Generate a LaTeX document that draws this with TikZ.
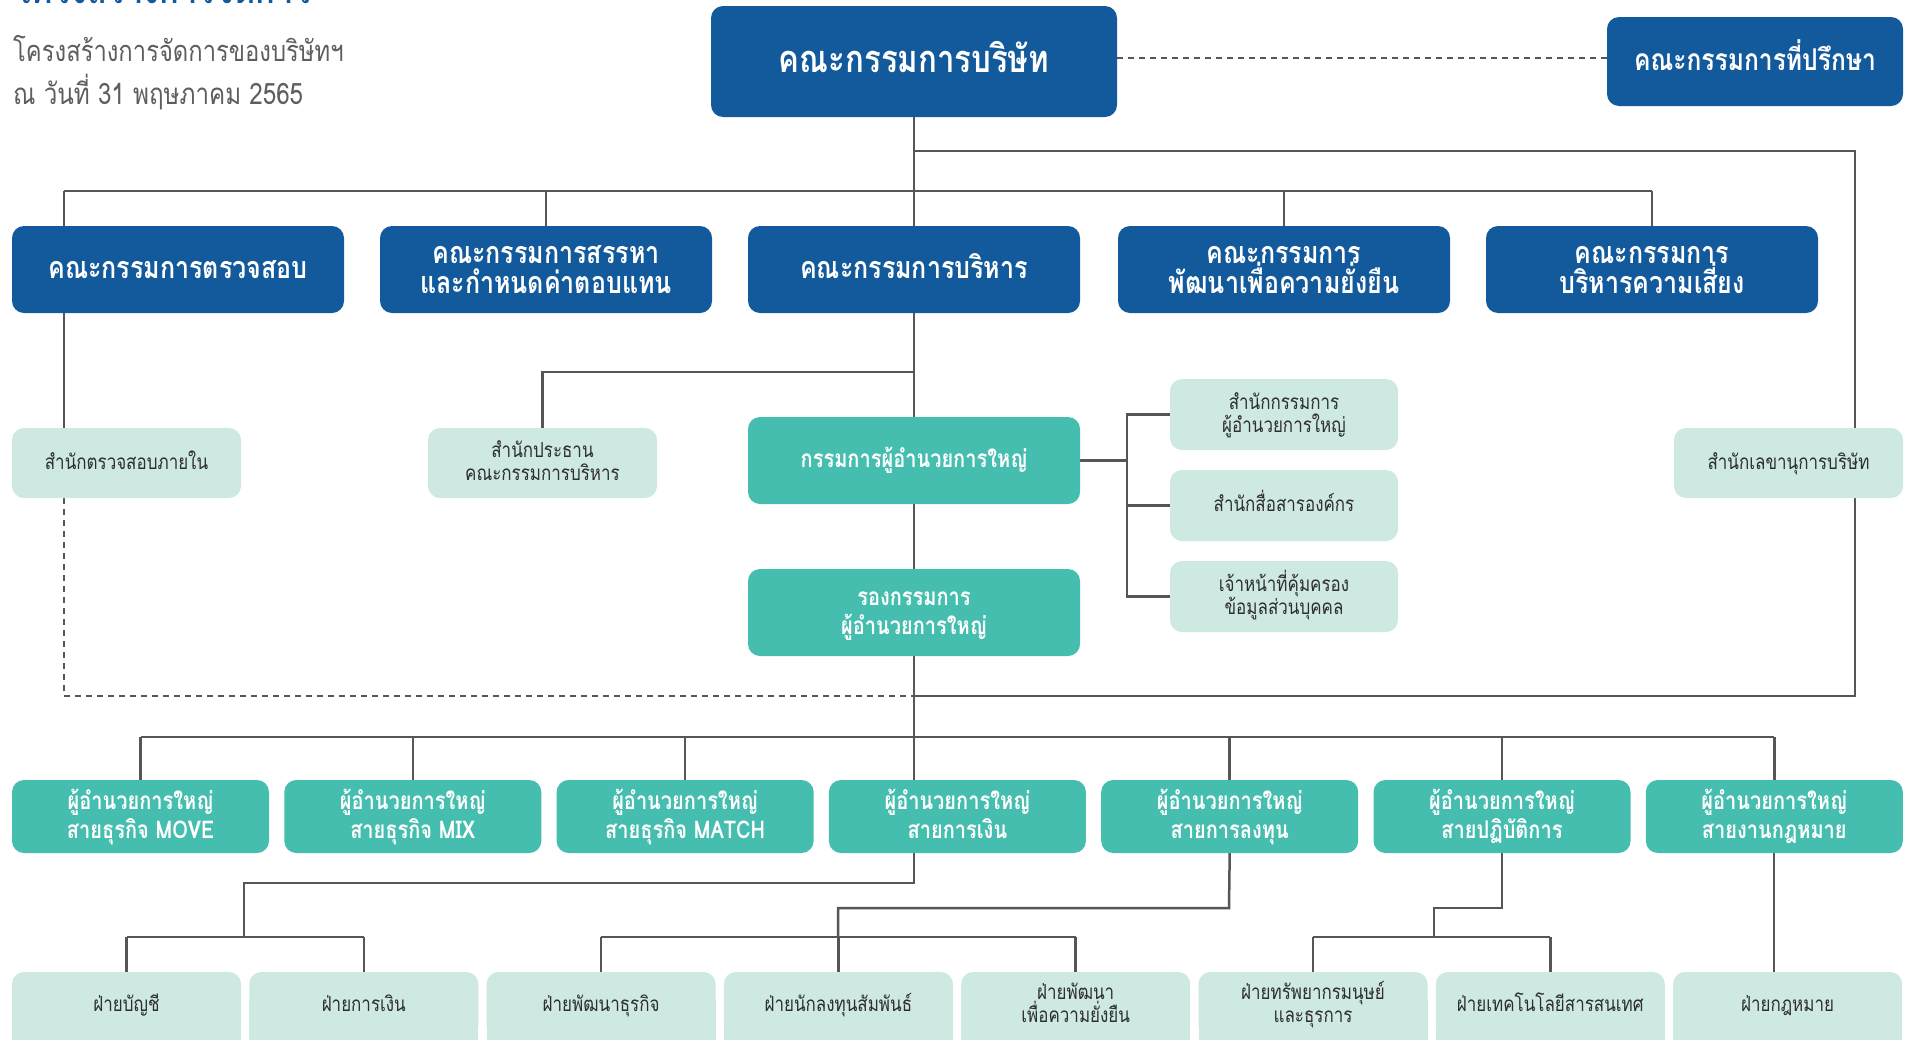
\documentclass[tikz,border=0pt]{standalone}
\usepackage{fontspec}
\setmainfont[Script=Thai]{Loma}
\newfontfamily\cf[Script=Thai,FakeStretch=0.82]{Loma}
\usetikzlibrary{backgrounds}
\pgfdeclarelayer{bottom}
\pgfsetlayers{bottom,background,main}
\definecolor{cblue}{HTML}{135A9C}
\definecolor{cteal}{HTML}{45BEAF}
\definecolor{clight}{HTML}{CEE8E2}
\definecolor{cline}{HTML}{565656}
\definecolor{ctext}{HTML}{2E2E2E}
\definecolor{csub}{HTML}{5E5E5E}
\newcommand\bs{\rule[-0.6em]{0pt}{1.8em}}
\newcommand\up[2]{\raisebox{#1}{#2}}
\tikzset{
  box/.style={rounded corners=12pt, inner sep=0pt, align=center, execute at begin node={\lineskiplimit=-60pt\lineskip=0pt}},
  bluebox/.style={box, fill=cblue, text=white, font=\cf\bfseries\fontsize{30.5}{30}\selectfont},
  tealbox/.style={box, fill=cteal, text=white, font=\cf\bfseries\fontsize{24.4}{29}\selectfont},
  lightbox/.style={box, fill=clight, text=ctext, font=\cf\fontsize{20.7}{23}\selectfont},
  conn/.style={draw=cline, line width=2.5pt},
  dconn/.style={conn, dash pattern=on 6pt off 5pt},
}
\begin{document}
\begin{tikzpicture}[x=1pt,y=-1pt]
\useasboundingbox (0,0) rectangle (1905,1039);
\begin{pgfonlayer}{bottom}
\fill[white] (0,0) rectangle (1905,1039);
\end{pgfonlayer}
\clip (0,0) rectangle (1905,1039);
% title (clipped at top)
\node[anchor=base west, inner sep=0pt, text=cblue, font=\cf\bfseries\fontsize{40}{44}\selectfont] (title) at (14,3) {โครงสร้างการจัดการ};
\node[anchor=base west, inner sep=0pt, text=csub, font=\cf\fontsize{29}{32}\selectfont] (sub1) at (13,61) {โครงสร้างการจัดการของบริษัทฯ};
\node[anchor=base west, inner sep=0pt, text=csub, font=\cf\fontsize{29.5}{32}\selectfont] (sub2) at (13,104) {ณ วันที่ 31 พฤษภาคม 2565};
% top
\node[bluebox, minimum width=406pt, minimum height=111pt, font=\cf\bfseries\fontsize{38}{40}\selectfont] (board) at (914,61.5) {\up{8pt}{\bs คณะกรรมการบริษัท}};
\node[bluebox, minimum width=296pt, minimum height=89pt, font=\cf\bfseries\fontsize{30}{34}\selectfont] (adv) at (1755,61.5) {\up{8pt}{\bs คณะกรรมการที่ปรึกษา}};
% row 2
\foreach \n/\x/\t in {B1/178/{\up{6pt}{\bs คณะกรรมการตรวจสอบ}}, B2/546/{\bs คณะกรรมการสรรหา\\\bs และกำหนดค่าตอบแทน}, B3/914/{\up{6pt}{\bs คณะกรรมการบริหาร}}, B4/1284/{\bs คณะกรรมการ\\\bs พัฒนาเพื่อความยั่งยืน}, B5/1652/{\bs คณะกรรมการ\\\bs บริหารความเสี่ยง}}
  \node[bluebox, minimum width=332pt, minimum height=87pt] (\n) at (\x,269.5) {\t};
% row 3
\node[lightbox, minimum width=229pt, minimum height=70pt] (L1) at (126.5,463) {\bs สำนักตรวจสอบภายใน};
\node[lightbox, minimum width=229pt, minimum height=70pt] (L2) at (542.5,463) {\bs สำนักประธาน\\\bs คณะกรรมการบริหาร};
\node[tealbox, minimum width=332pt, minimum height=87pt] (ceo) at (914,460.5) {\bs กรรมการผู้อำนวยการใหญ่};
\node[tealbox, minimum width=332pt, minimum height=87pt] (dep) at (914,612.5) {\bs รองกรรมการ\\\bs ผู้อำนวยการใหญ่};
\node[lightbox, minimum width=228pt, minimum height=71pt] (R1) at (1284,414.5) {\bs สำนักกรรมการ\\\bs ผู้อำนวยการใหญ่};
\node[lightbox, minimum width=228pt, minimum height=71pt] (R2) at (1284,505.5) {\bs สำนักสื่อสารองค์กร};
\node[lightbox, minimum width=228pt, minimum height=71pt] (R3) at (1284,596.5) {\bs เจ้าหน้าที่คุ้มครอง\\\bs ข้อมูลส่วนบุคคล};
\node[lightbox, minimum width=229pt, minimum height=70pt] (sec) at (1788.5,463) {\bs สำนักเลขานุการบริษัท};
% row 4
\foreach \n/\i/\t in {D1/0/{สายธุรกิจ MOVE}, D2/1/{สายธุรกิจ MIX}, D3/2/{สายธุรกิจ MATCH}, D4/3/{สายการเงิน}, D5/4/{สายการลงทุน}, D6/5/{สายปฏิบัติการ}, D7/6/{สายงานกฎหมาย}}
  \node[tealbox, minimum width=257pt, minimum height=73pt] (\n) at (140.5+272.3*\i,816.5) {\bs ผู้อำนวยการใหญ่\\\bs\t};
% row 5
\begin{pgfonlayer}{background}
\foreach \i in {0,...,7}
  \fill[clight] (126.5+237.3*\i-114.5,1000) rectangle (126.5+237.3*\i+114.5,1060);
\end{pgfonlayer}
\foreach \n/\i/\t in {E1/0/{\bs ฝ่ายบัญชี}, E2/1/{\bs ฝ่ายการเงิน}, E3/2/{\bs ฝ่ายพัฒนาธุรกิจ}, E4/3/{\bs ฝ่ายนักลงทุนสัมพันธ์}, E5/4/{\bs ฝ่ายพัฒนา\\\bs เพื่อความยั่งยืน}, E6/5/{\bs ฝ่ายทรัพยากรมนุษย์\\\bs และธุรการ}, E7/6/{\bs ฝ่ายเทคโนโลยีสารสนเทศ}, E8/7/{\bs ฝ่ายกฎหมาย}}
  \node[lightbox, minimum width=229pt, minimum height=66pt] (\n) at (126.5+237.3*\i,1005) {\t};
% connectors
\begin{pgfonlayer}{background}
\coordinate (j1) at (64,191);
\coordinate (j5) at (1652,191);
\coordinate (k) at (914,151);
\coordinate (kr) at (1855,151);
\coordinate (kb) at (1855,696);
\coordinate (m) at (914,696);
\coordinate (da) at (64,696);
\draw[dconn] (board.east |- 0,58) -- (adv.west |- 0,58);
\draw[conn] (board.south) -- (B3.north);
\draw[conn] (j1) -- (j5);
\draw[conn] (j1) -- (j1 |- B1.north);
\draw[conn] (B2.north) -- (B2.north |- j1);
\draw[conn] (B4.north) -- (B4.north |- j1);
\draw[conn] (B5.north) -- (B5.north |- j1);
\draw[conn] (k) -- (kr) -- (kb) -- (m);
\draw[conn] (B1.south -| j1) -- (L1.north -| j1);
\draw[dconn] (L1.south -| j1) -- (da) -- (m);
\coordinate (c2) at (914,372);
\draw[conn] (B3.south) -- (ceo.north);
\draw[conn] (c2) -| (L2.north);
\draw[conn] (ceo.south) -- (dep.north);
\coordinate (rv) at (1127,460.5);
\draw[conn] (ceo.east) -- (rv);
\draw[conn] (R1.west) -| (rv |- R2.west) |- (R3.west);
\draw[conn] (rv |- R2.west) -- (R2.west);
\coordinate (h4) at (914,737);
\draw[conn] (dep.south) -- (914,780);
\draw[conn] (D1.north |- h4) -- (D7.north |- h4);
\foreach \n in {D1,D2,D3,D5,D6,D7} \draw[conn] (\n.north) -- (\n.north |- h4);
% D4 to E1,E2
\coordinate (p1) at (914,883);
\coordinate (p2) at (244,937);
\draw[conn] (D4.south -| p1) -- (p1) -| (p2);
\draw[conn] (E1.north |- p2) -- (E2.north |- p2);
\draw[conn] (E1.north) -- (E1.north |- p2);
\draw[conn] (E2.north) -- (E2.north |- p2);
% D5 to E3..E5
\coordinate (q1) at (1229,908);
\coordinate (q2) at (838,937);
\draw[conn] (D5.south) -- (q1) -| (q2);
\draw[conn] (E3.north |- q2) -- (E5.north |- q2);
\foreach \n in {E3,E4,E5} \draw[conn] (\n.north) -- (\n.north |- q2);
% D6 to E6,E7
\coordinate (r1) at (1502,908);
\coordinate (r2) at (1434,937);
\draw[conn] (D6.south) -- (r1) -| (r2);
\draw[conn] (E6.north |- r2) -- (E7.north |- r2);
\foreach \n in {E6,E7} \draw[conn] (\n.north) -- (\n.north |- r2);
% D7 to E8
\draw[conn] (D7.south -| 1774,0) -- (E8.north -| 1774,0);
\end{pgfonlayer}
\end{tikzpicture}
\end{document}
